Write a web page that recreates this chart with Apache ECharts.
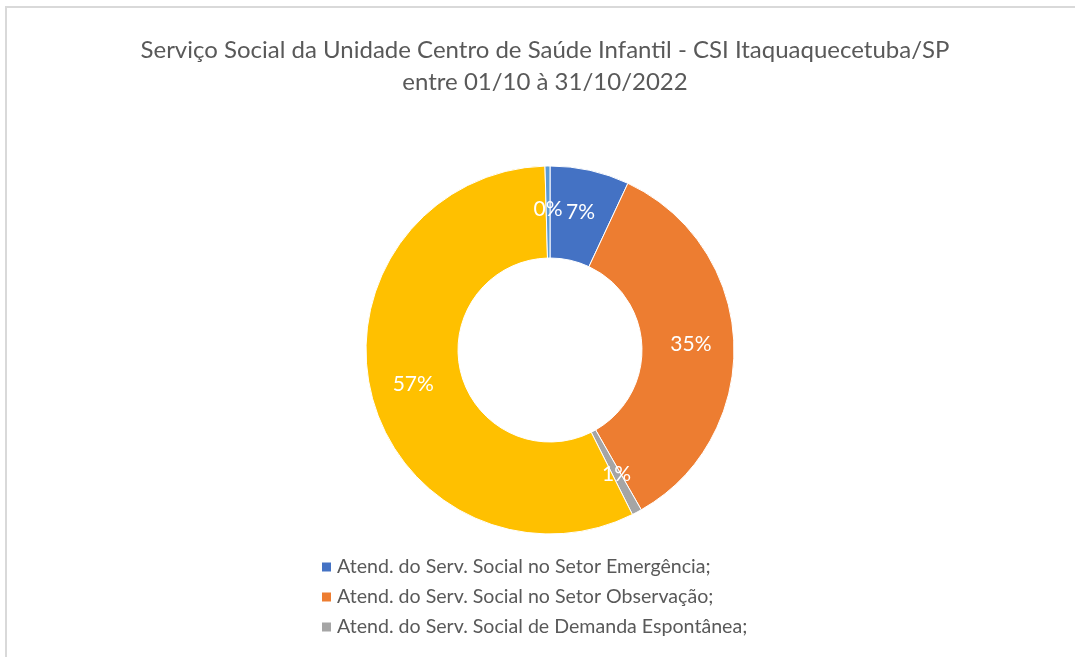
<!DOCTYPE html>
<html>
<head>
<meta charset="utf-8">
<script src="https://cdn.jsdelivr.net/npm/echarts@6/dist/echarts.min.js"></script>
<style>
  html, body { margin: 0; padding: 0; background: #fff; }
  #frame {
    position: absolute; left: 5px; top: 6px; width: 1075px; height: 660px;
    border-left: 2px solid #d9d9d9; border-top: 2px solid #d9d9d9;
  }
  #chart { position: absolute; left: 0; top: 0; width: 1075px; height: 657px; }
</style>
</head>
<body>
<div id="frame"></div>
<div id="chart"></div>
<script>
  // Dados (atendimentos no período)
  var categories = [
    'Atend. do Serv. Social no Setor Emergência;',
    'Atend. do Serv. Social no Setor Observação;',
    'Atend. do Serv. Social de Demanda Espontânea;',
    'Atend. do Serv. Social no Setor Ambulatório;',
    'Outros atendimentos;'
  ];
  var values = [16, 80, 2, 131, 1];
  var colors = ['#4472C4', '#ED7D31', '#A5A5A5', '#FFC000', '#5B9BD5'];
  var legendItems = categories.slice(0, 3);

  var fontName = 'Lato';

  var chart = echarts.init(document.getElementById('chart'));

  var pieData = categories.map(function (name, i) {
    return { name: name, value: values[i], itemStyle: { color: colors[i] } };
  });

  chart.setOption({
    animation: false,
    title: {
      text: 'Serviço Social da Unidade Centro de Saúde Infantil - CSI Itaquaquecetuba/SP\nentre 01/10 à 31/10/2022',
      left: 540,
      textAlign: 'center',
      top: 29,
      textStyle: {
        fontFamily: fontName, fontSize: 24, fontWeight: 'normal',
        color: '#595959', lineHeight: 32
      }
    },
    legend: {
      data: legendItems,
      orient: 'vertical',
      left: 315,
      top: 552,
      itemWidth: 11,
      itemHeight: 11,
      itemGap: 10,
      icon: 'rect',
      textStyle: { fontFamily: fontName, fontSize: 19.6, lineHeight: 20, color: '#595959' }
    },
    series: [{
      type: 'pie',
      center: [550, 350],
      radius: [92, 184],
      startAngle: 90,
      clockwise: true,
      percentPrecision: 0,
      avoidLabelOverlap: false,
      itemStyle: { borderColor: '#fff', borderWidth: 1 },
      label: {
        show: true,
        position: 'inside',
        formatter: '{d}%',
        color: '#fff',
        fontFamily: fontName,
        fontSize: 21,
        textBorderWidth: 0
      },
      labelLine: { show: false },
      emphasis: { disabled: true },
      data: pieData
    }]
  });
</script>
</body>
</html>
